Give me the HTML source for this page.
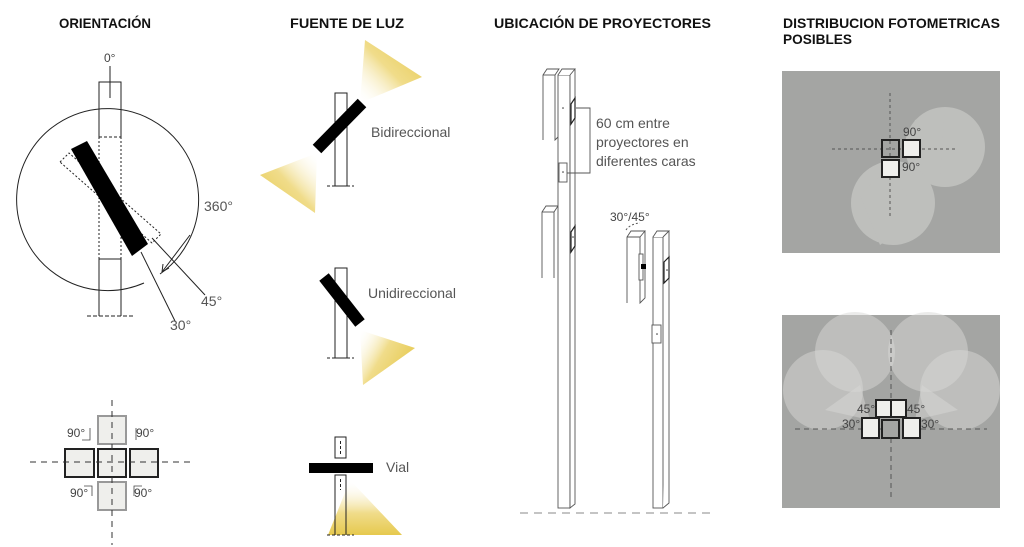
<!DOCTYPE html>
<html><head><meta charset="utf-8"><style>
html,body{margin:0;padding:0;background:#fff;}
svg{display:block;}
text{font-family:"Liberation Sans",sans-serif;}
.h{font-weight:bold;font-size:14px;fill:#111;}
.l{font-size:14px;fill:#555;}
.s{font-size:12px;fill:#444;}
</style></head><body>
<svg width="1024" height="547" viewBox="0 0 1024 547" xmlns="http://www.w3.org/2000/svg">
<defs>
<linearGradient id="gTop" x1="0" y1="1" x2="1" y2="0"><stop offset="0" stop-color="#fff" stop-opacity="0"/><stop offset="0.5" stop-color="#f0dc8a"/><stop offset="1" stop-color="#e6c94e"/></linearGradient>
<linearGradient id="gBot" x1="1" y1="0" x2="0" y2="1"><stop offset="0" stop-color="#fff" stop-opacity="0"/><stop offset="0.5" stop-color="#f0dc8a"/><stop offset="1" stop-color="#e6c94e"/></linearGradient>
<linearGradient id="gUni" x1="0" y1="0" x2="1" y2="0.6"><stop offset="0" stop-color="#fff" stop-opacity="0"/><stop offset="0.5" stop-color="#f0dc8a"/><stop offset="1" stop-color="#e6c94e"/></linearGradient>
<linearGradient id="gVial" x1="0" y1="0" x2="0" y2="1"><stop offset="0" stop-color="#fff" stop-opacity="0"/><stop offset="0.6" stop-color="#f0dc8a"/><stop offset="1" stop-color="#e6c94e"/></linearGradient>
</defs>

<!-- headers -->
<text class="h" x="59" y="28" textLength="92" lengthAdjust="spacingAndGlyphs">ORIENTACIÓN</text>
<text class="h" x="290" y="28" textLength="114" lengthAdjust="spacingAndGlyphs">FUENTE DE LUZ</text>
<text class="h" x="494" y="28" textLength="217" lengthAdjust="spacingAndGlyphs">UBICACIÓN DE PROYECTORES</text>
<text class="h" x="783" y="28" textLength="217" lengthAdjust="spacingAndGlyphs">DISTRIBUCION FOTOMETRICAS</text>
<text class="h" x="783" y="44" textLength="69" lengthAdjust="spacingAndGlyphs">POSIBLES</text>

<!-- ORIENTACION -->
<g fill="none" stroke="#222" stroke-width="1">
<path d="M144 283 A91 91 0 1 1 160 274"/>
<line x1="110" y1="66" x2="110" y2="98"/>
<path d="M99 137 V82 H121 V137"/>
<line x1="99" y1="137" x2="121" y2="137" stroke-dasharray="3,2"/>
<line x1="99" y1="137" x2="99" y2="259" stroke-dasharray="2,2"/>
<line x1="121" y1="137" x2="121" y2="259" stroke-dasharray="2,2"/>
<path d="M99 316 V259 H121 V316"/>
<line x1="87" y1="316" x2="134" y2="316" stroke-dasharray="4,2"/>
<polygon points="60,162 69,153 161,234 152,243" stroke-dasharray="2,2"/>
<line x1="141" y1="252" x2="175" y2="321"/>
<line x1="152" y1="238" x2="205" y2="295"/>
<line x1="190" y1="235" x2="162" y2="272"/>
<path d="M162 272 l1 -8 M162 272 l7 -4"/>
</g>
<polygon points="71,149 87,141 148,244 132,256" fill="#000"/>
<text class="s" x="104" y="62">0°</text>
<text class="l" x="204" y="211">360°</text>
<text class="l" x="201" y="306">45°</text>
<text class="l" x="170" y="330">30°</text>

<!-- cross -->
<g stroke-width="2" fill="#efefec">
<rect x="98" y="416" width="28" height="28" stroke="#999"/>
<rect x="98" y="482" width="28" height="28" stroke="#999"/>
<rect x="65" y="449" width="29" height="28" stroke="#222"/>
<rect x="98" y="449" width="28" height="28" stroke="#222"/>
<rect x="130" y="449" width="28" height="28" stroke="#222"/>
</g>
<g stroke="#333" stroke-dasharray="6,5"><line x1="30" y1="462" x2="193" y2="462"/><line x1="112" y1="400" x2="112" y2="545"/></g>
<text class="s" x="67" y="437">90°</text><text class="s" x="136" y="437">90°</text>
<text class="s" x="70" y="497">90°</text><text class="s" x="134" y="497">90°</text>
<g stroke="#444" fill="none" stroke-width="0.8"><path d="M90 428 V440 H82"/><path d="M136 428 V440"/><path d="M92 496 V486 H84"/><path d="M134 496 V486 H142"/></g>

<!-- FUENTE DE LUZ -->
<polygon points="365,40 422,77 360,103" fill="url(#gTop)"/>
<polygon points="260,175 317,153 315,213" fill="url(#gBot)"/>
<g fill="none" stroke="#222"><rect x="335" y="93" width="12" height="93"/><line x1="327" y1="186" x2="354" y2="186" stroke-dasharray="3,2"/></g>
<line x1="317" y1="149" x2="362" y2="103" stroke="#000" stroke-width="12"/>
<text class="l" x="371" y="137">Bidireccional</text>

<polygon points="360,330 415,348 363,385" fill="url(#gUni)"/>
<g fill="none" stroke="#222"><rect x="335" y="268" width="12" height="90"/><line x1="327" y1="358" x2="354" y2="358" stroke-dasharray="3,2"/></g>
<line x1="324" y1="277" x2="360" y2="323" stroke="#000" stroke-width="12"/>
<text class="l" x="368" y="298">Unidireccional</text>

<polygon points="350,480 402,535 328,535" fill="url(#gVial)"/>
<g fill="none" stroke="#222"><rect x="335" y="437" width="11" height="21"/><path d="M335 535 V475 H346 V535"/><line x1="327" y1="535" x2="354" y2="535" stroke-dasharray="3,2"/><line x1="340.5" y1="441" x2="340.5" y2="456" stroke-dasharray="3,2"/><line x1="340.5" y1="479" x2="340.5" y2="490" stroke-dasharray="3,2"/></g>
<rect x="309" y="463" width="64" height="10" fill="#000"/>
<text class="l" x="386" y="472">Vial</text>

<!-- UBICACION -->
<g fill="#fff" stroke="#555" stroke-width="0.9">
<path d="M543 140 V75 L547 69 H559 L555 75 V140 L559 136"/><line x1="543" y1="75" x2="555" y2="75"/>
<path d="M542 278 V212 L546 206 H558 L554 212 V278"/><line x1="542" y1="212" x2="554" y2="212"/>
<rect x="558" y="75" width="12" height="433"/>
<path d="M558 75 L562 69 H575 L570 75 M570 75 V508 L575 504 V69"/>
<rect x="559" y="163" width="8" height="19"/>
<path d="M576 108 H590 V173 H567" fill="none"/>
<path d="M627 303 V237 L631 231 H645 L640 237 V303 L645 298 V231 M627 237 H640"/>
<rect x="639" y="254" width="4" height="26"/>
<rect x="653" y="237" width="10" height="271"/>
<path d="M653 237 L657 231 H669 L663 237 M663 508 L669 503 V231"/>
<rect x="652" y="325" width="9" height="18"/>
</g>
<g fill="#fff" stroke="#222" stroke-width="1.2">
<path d="M571 104 L575 98 V118 L571 124 Z"/>
<path d="M571 232 L575 226 V246 L571 252 Z"/>
<path d="M664 262 L669 257 V278 L664 283 Z"/>
</g>
<rect x="641" y="264" width="5" height="5" fill="#000"/>
<g fill="#333"><circle cx="563" cy="108" r="0.8"/><circle cx="563" cy="172" r="0.8"/><circle cx="573" cy="237" r="0.8"/><circle cx="667" cy="270" r="0.8"/><circle cx="657" cy="334" r="0.8"/></g>
<path d="M626 230 Q630 224 640 223" fill="none" stroke="#555" stroke-dasharray="2,2"/>
<text class="l" x="596" y="128">60 cm entre</text>
<text class="l" x="596" y="147">proyectores en</text>
<text class="l" x="596" y="166">diferentes caras</text>
<text class="s" x="610" y="221">30°/45°</text>
<line x1="520" y1="513" x2="716" y2="513" stroke="#888" stroke-dasharray="8,6"/>

<!-- DISTRIBUCION 1 -->
<rect x="782" y="71" width="218" height="182" fill="#a4a5a3"/>
<g fill="#bebfbc">
<circle cx="945" cy="147" r="40"/><circle cx="893" cy="203" r="42"/>
<polygon points="905,155 915,120 945,107 940,180"/><polygon points="888,168 860,195 880,245 920,215"/>
</g>
<g stroke="#555" stroke-dasharray="3,3"><line x1="832" y1="149" x2="958" y2="149"/><line x1="890" y1="93" x2="890" y2="218"/></g>
<g stroke="#222" stroke-width="2"><rect x="882" y="140" width="17" height="17" fill="none"/><rect x="903" y="140" width="17" height="17" fill="#efefec"/><rect x="882" y="160" width="17" height="17" fill="#efefec"/></g>
<text class="s" x="903" y="136">90°</text><text class="s" x="902" y="171">90°</text>

<!-- DISTRIBUCION 2 -->
<rect x="782" y="315" width="218" height="193" fill="#a4a5a3"/>
<g fill="#d8d8d6" fill-opacity="0.5">
<circle cx="823" cy="390" r="40"/><circle cx="960" cy="390" r="40"/>
<circle cx="855" cy="352" r="40"/><circle cx="928" cy="352" r="40"/>
<polygon points="860,385 825,410 870,420"/><polygon points="922,385 958,410 915,420"/>
</g>
<g stroke="#555" stroke-dasharray="5,4"><line x1="795" y1="429" x2="987" y2="429"/><line x1="891" y1="330" x2="891" y2="500"/></g>
<g stroke="#222" stroke-width="2" fill="#efefec">
<rect x="876" y="400" width="15" height="17"/><rect x="891" y="400" width="15" height="17"/>
<rect x="862" y="418" width="17" height="20"/><rect x="903" y="418" width="17" height="20"/>
<rect x="882" y="420" width="17" height="18" fill="#a4a5a3"/>
</g>
<text class="s" x="857" y="413">45°</text><text class="s" x="907" y="413">45°</text>
<text class="s" x="842" y="428">30°</text><text class="s" x="921" y="428">30°</text>
</svg>
</body></html>
